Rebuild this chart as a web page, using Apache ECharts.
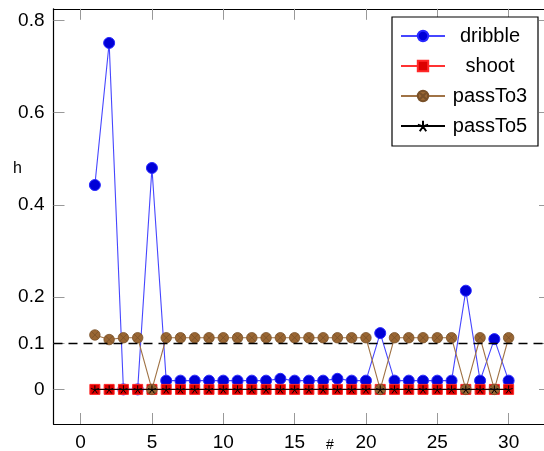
<!DOCTYPE html>
<html>
<head>
<meta charset="utf-8">
<script src="https://cdn.jsdelivr.net/npm/echarts@6/dist/echarts.min.js"></script>
<style>
  html, body { margin: 0; padding: 0; background: #fff; }
  #chart { width: 544px; height: 451px; }
</style>
</head>
<body>
<div id="chart"></div>
<script>
// ---- data ----
const episodes = [1,2,3,4,5,6,7,8,9,10,11,12,13,14,15,16,17,18,19,20,21,22,23,24,25,26,27,28,29,30];
const dribble = [0.443,0.751,0,0,0.480,0.019,0.019,0.019,0.019,0.019,0.019,0.019,0.019,0.023,0.019,0.019,0.019,0.023,0.019,0.019,0.122,0.019,0.019,0.019,0.019,0.019,0.214,0.019,0.109,0.019];
const shoot = [0,0,0,0,0,0,0,0,0,0,0,0,0,0,0,0,0,0,0,0,0,0,0,0,0,0,0,0,0,0];
const passTo3 = [0.118,0.108,0.112,0.112,0,0.112,0.112,0.112,0.112,0.112,0.112,0.112,0.112,0.112,0.112,0.112,0.112,0.112,0.112,0.112,0,0.112,0.112,0.112,0.112,0.112,0,0.112,0,0.112];
const passTo5 = [0,0,0,0,0,0,0,0,0,0,0,0,0,0,0,0,0,0,0,0,0,0,0,0,0,0,0,0,0,0];
const thresholdValue = 0.1;
const xTicks = [0,5,10,15,20,25,30];
const yTicks = [0,0.1,0.2,0.4,0.6,0.8];
const seriesNames = ['dribble','shoot','passTo3','passTo5'];
const xName = '#';
const yName = 'h';

const pairs = arr => episodes.map((e, i) => [e, arr[i]]);

const otimesPath = 'path://M-10,0 A10,10 0 1,1 10,0 A10,10 0 1,1 -10,0 Z M-7.07,-7.07 L7.07,7.07 M-7.07,7.07 L7.07,-7.07';
const starPath = 'path://M0,0 L0,-10 M0,0 L9.51,-3.09 M0,0 L5.88,8.09 M0,0 L-5.88,8.09 M0,0 L-9.51,-3.09';

const FONT = 'Liberation Sans';

const chart = echarts.init(document.getElementById('chart'), null, { renderer: 'canvas' });

const frameAxis = {
  axisLine: { show: true, onZero: false, lineStyle: { color: '#000', width: 1.2 } },
  splitLine: { show: false }
};

chart.setOption({
  animation: false,
  backgroundColor: '#fff',
  textStyle: { fontFamily: FONT },
  grid: { left: 53.5, width: 496.5, top: 8.8, bottom: 27, containLabel: false, outerBoundsMode: 'none' },
  xAxis: [
    Object.assign({
      type: 'value', min: -1.9, max: 32.9, position: 'bottom',
      axisTick: { show: true, inside: true, length: 11, customValues: xTicks, lineStyle: { color: '#999', width: 1 } },
      axisLabel: { show: true, customValues: xTicks, color: '#000', fontSize: 19, fontFamily: FONT, margin: 9 }
    }, frameAxis),
    Object.assign({
      type: 'value', min: -1.9, max: 32.9, position: 'top',
      axisTick: { show: true, inside: true, length: 11, customValues: xTicks, lineStyle: { color: '#999', width: 1 } },
      axisLabel: { show: false }
    }, frameAxis)
  ],
  yAxis: [
    Object.assign({
      type: 'value', min: -0.075, max: 0.825, position: 'left',
      axisTick: { show: true, inside: true, length: 11, customValues: yTicks, lineStyle: { color: '#999', width: 1 } },
      axisLabel: { show: true, customValues: yTicks, color: '#000', fontSize: 19, fontFamily: FONT, margin: 9,
        formatter: v => String(v) }
    }, frameAxis),
    Object.assign({
      type: 'value', min: -0.075, max: 0.825, position: 'right',
      axisTick: { show: true, inside: true, length: 11, customValues: yTicks, lineStyle: { color: '#999', width: 1 } },
      axisLabel: { show: false }
    }, frameAxis)
  ],
  legend: {
    orient: 'vertical',
    left: 392, top: 17,
    backgroundColor: '#fff',
    borderColor: '#000', borderWidth: 1.2,
    padding: [9, 8, 10, 8],
    itemWidth: 44, itemHeight: 13, itemGap: 10,
    data: seriesNames,
    formatter: name => '{t|' + name + '}',
    textStyle: {
      fontFamily: FONT, fontSize: 20, color: '#000',
      rich: { t: { width: 80, align: 'center', fontSize: 20, fontFamily: FONT, lineHeight: 20, color: '#000' } }
    }
  },
  graphic: [
    { type: 'text', left: 13, top: 161, style: { text: yName, font: '16px "Liberation Sans"', fill: '#000' } },
    { type: 'text', left: 326, top: 438, style: { text: xName, font: '14px "Liberation Sans"', fill: '#000' } }
  ],
  series: [
    {
      name: seriesNames[0], type: 'line', data: pairs(dribble),
      symbol: 'circle', symbolSize: 11,
      lineStyle: { color: 'rgb(70,70,255)', width: 1.1 },
      itemStyle: { color: 'rgb(0,0,215)', borderColor: 'rgb(40,40,255)', borderWidth: 1 },
      z: 2
    },
    {
      name: seriesNames[1], type: 'line', data: pairs(shoot),
      symbol: 'rect', symbolSize: 10,
      lineStyle: { color: 'rgb(255,50,50)', width: 1.1 },
      itemStyle: { color: 'rgb(220,0,0)', borderColor: 'rgb(255,40,40)', borderWidth: 1 },
      z: 3
    },
    {
      name: seriesNames[2], type: 'line', data: pairs(passTo3),
      symbol: otimesPath, symbolSize: 10.5,
      lineStyle: { color: 'rgb(160,115,70)', width: 1.1 },
      itemStyle: { color: 'rgb(153,102,51)', borderColor: 'rgb(120,80,40)', borderWidth: 0.8 },
      z: 4
    },
    {
      name: seriesNames[3], type: 'line', data: pairs(passTo5),
      symbol: starPath, symbolSize: 8,
      lineStyle: { color: '#000', width: 1 },
      itemStyle: { color: 'rgba(0,0,0,0)', borderColor: '#000', borderWidth: 1 },
      z: 5,
      markLine: {
        silent: true, symbol: 'none', label: { show: false },
        lineStyle: { color: '#000', type: [9, 6], width: 1.3 },
        data: [{ yAxis: thresholdValue }]
      }
    }
  ]
});
</script>
</body>
</html>
